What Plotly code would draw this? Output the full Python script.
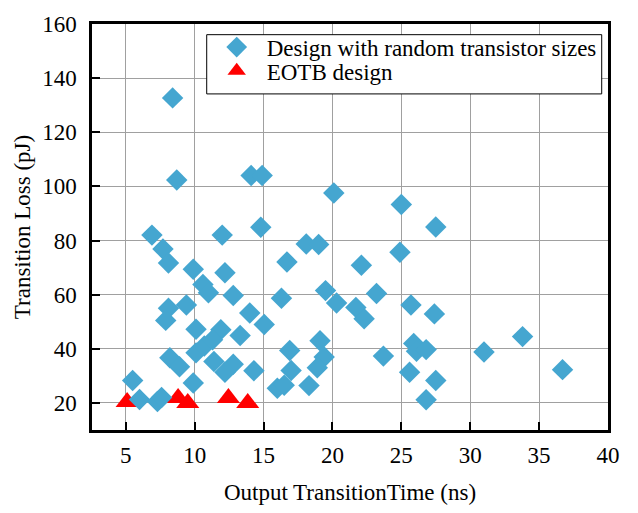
import plotly.graph_objects as go

# Designs with random transistor sizes: output transition time (ns) and transition loss (pJ)
random_time = [
    8.4, 8.7, 14.1, 14.9, 20.1, 25.0, 27.5, 6.9, 12.0, 14.8,
    7.7, 8.1, 18.1, 19.0, 16.7, 22.1, 9.9, 12.2, 10.6, 11.0,
    12.8, 16.3, 19.5, 20.3, 9.4, 8.1, 7.9, 14.0, 15.05, 10.1,
    11.9, 13.3, 10.1, 10.7, 11.3, 11.4, 12.8, 12.2, 8.2, 8.9,
    14.3, 9.9, 5.5, 6.0, 7.3, 7.6, 16.0, 16.5, 18.3, 16.9,
    17.0, 19.1, 19.4, 18.9, 21.7, 22.3, 23.2, 23.7, 24.9, 25.7,
    27.4, 25.9, 26.1, 26.8, 25.6, 27.5, 26.8, 31.0, 33.8, 36.7,
]
random_loss = [
    132.7, 102.4, 104.0, 104.0, 97.6, 93.3, 85.0, 82.0, 82.0, 84.9,
    76.9, 71.7, 78.7, 78.5, 72.1, 70.9, 69.4, 68.1, 63.8, 60.7,
    59.7, 58.7, 61.5, 56.9, 56.2, 55.0, 50.5, 53.2, 49.0, 47.2,
    47.0, 44.9, 38.5, 41.0, 43.3, 35.3, 34.3, 31.3, 36.7, 33.4,
    31.9, 27.4, 28.3, 21.3, 20.5, 22.0, 25.4, 26.5, 26.4, 39.4,
    32.0, 43.0, 37.0, 33.0, 55.3, 51.1, 60.4, 37.3, 75.7, 56.2,
    52.9, 42.0, 39.1, 39.7, 31.3, 28.3, 21.2, 38.8, 44.5, 32.3,
]

# EOTB designs
eotb_time = [5.1, 8.8, 9.5, 12.45, 13.85]
eotb_loss = [20.3, 21.8, 20.0, 21.8, 20.0]

x_ticks = [5, 10, 15, 20, 25, 30, 35, 40]
y_ticks = [20, 40, 60, 80, 100, 120, 140, 160]

FONT = "Liberation Serif"

fig = go.Figure()

# triangles first so the diamonds sit on top of them
fig.add_trace(go.Scatter(
    x=eotb_time, y=eotb_loss, mode="markers", name="EOTB design",
    marker=dict(symbol="triangle-up", size=20, color="#ff0000", line=dict(width=0)),
    legend="legend2",
))
fig.add_trace(go.Scatter(
    x=random_time, y=random_loss, mode="markers",
    name="Design with random transistor sizes",
    marker=dict(symbol="diamond", size=16.5, color="#45a6d0", line=dict(width=0)),
    legend="legend",
))

axis_common = dict(
    showgrid=True, gridcolor="#a0a0a0", gridwidth=1,
    showline=True, linecolor="black", linewidth=2.5, mirror=True,
    ticks="inside", ticklen=8, tickwidth=2, tickcolor="black",
    zeroline=False,
    tickfont=dict(family=FONT, size=23, color="black"),
)

fig.update_xaxes(
    range=[2.55, 40], tickvals=x_ticks,
    title=dict(text="Output TransitionTime (ns)", font=dict(family=FONT, size=23, color="black"), standoff=17),
    ticklabelstandoff=3,
    **axis_common,
)
fig.update_yaxes(
    range=[10, 160], tickvals=y_ticks,
    title=dict(text="Transition Loss (pJ)", font=dict(family=FONT, size=23, color="black"), standoff=6),
    ticklabelstandoff=8,
    **axis_common,
)

legend_font = dict(family=FONT, size=23, color="black")
legend_common = dict(
    x=0.2223, xanchor="left", yanchor="middle",
    bgcolor="rgba(0,0,0,0)", borderwidth=0,
    font=legend_font, itemwidth=50,
)

# framed white box behind the two legend rows
fig.add_shape(
    type="rect", xref="paper", yref="paper",
    x0=0.2223, x1=0.9878, y0=0.8278, y1=0.9737,
    line=dict(color="black", width=1), fillcolor="white", layer="above",
)

fig.update_layout(
    width=638, height=513,
    margin=dict(l=92, r=30, t=17, b=78),
    paper_bgcolor="white", plot_bgcolor="white",
    font=dict(family=FONT, color="black"),
    legend=dict(y=0.943, **legend_common),
    legend2=dict(y=0.885, **legend_common),
    showlegend=True,
)

fig.write_html("out.html")
